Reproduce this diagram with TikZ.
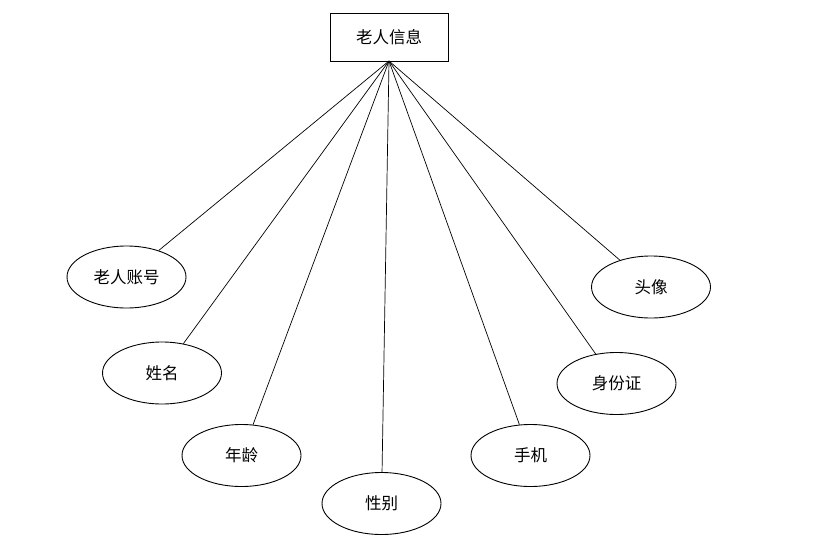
\documentclass[tikz,border=0pt]{standalone}
\usepackage{fontspec}
\setmainfont{Noto Sans CJK SC}
\usetikzlibrary{shapes.geometric}
\begin{document}
\begin{tikzpicture}[x=1pt,y=-1pt,
  attr/.style={draw, ellipse, line width=0.9pt, minimum width=119pt, minimum height=62pt, inner sep=0pt, font=\fontsize{16.5}{18}\selectfont},
  ent/.style={draw, rectangle, line width=0.9pt, minimum width=118pt, minimum height=48pt, inner sep=0pt, font=\fontsize{16.5}{18}\selectfont},
  link/.style={line width=0.7pt}]
\useasboundingbox (0,0) rectangle (834,554);
\node[ent] (top) at (389,37) {老人信息};
\coordinate (hub) at (389,61);
\node[attr] (a1) at (126.5,277) {老人账号};
\node[attr] (a2) at (162,373) {姓名};
\node[attr] (a3) at (241.5,455.5) {年龄};
\node[attr] (a4) at (381.5,503.5) {性别};
\node[attr] (a5) at (530.5,455.5) {手机};
\node[attr] (a6) at (616.5,383.5) {身份证};
\node[attr] (a7) at (651,287) {头像};
\foreach \n in {a1,a2,a3,a4,a5,a6,a7}
  \draw[link] (hub) -- (\n);
\end{tikzpicture}
\end{document}
